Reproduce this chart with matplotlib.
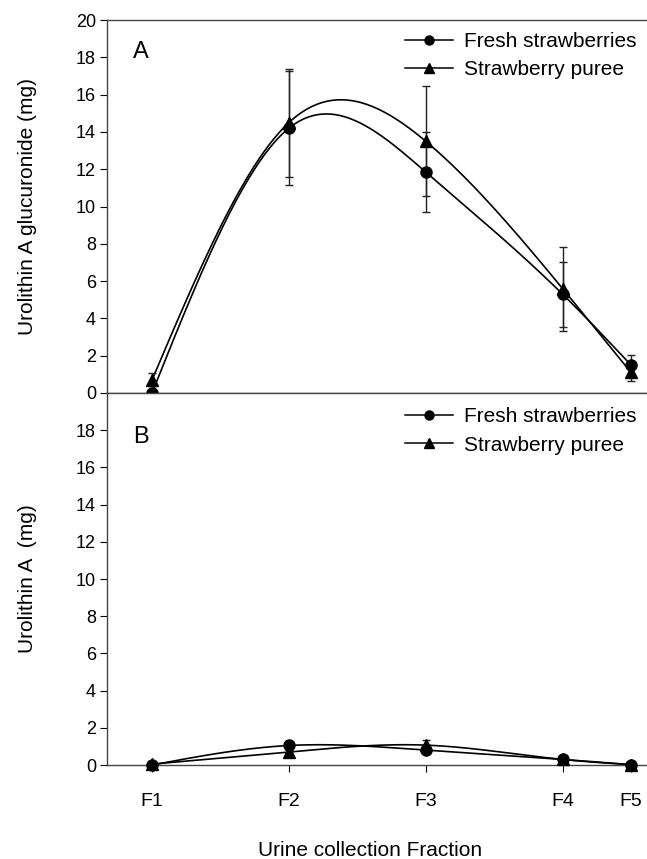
import numpy as np
import matplotlib
matplotlib.use("Agg")
import matplotlib.pyplot as plt
from matplotlib.lines import Line2D

plt.rcParams['font.family'] = ['Liberation Sans', 'DejaVu Sans']

# Data
fractions = ["F1", "F2", "F3", "F4", "F5"]
frac_pos = [0, 2, 4, 6, 7]  # fractions are not evenly spaced on the axis

# Panel A: urolithin A glucuronide (mg)
gluc_fresh = [0.0, 14.2, 11.85, 5.3, 1.5]
gluc_fresh_err = [0.0, 3.05, 2.15, 1.75, 0.55]
gluc_puree = [0.7, 14.5, 13.5, 5.6, 1.1]
gluc_puree_err = [0.35, 2.9, 2.95, 2.25, 0.45]

# Panel B: urolithin A (mg)
uroa_fresh = [0.0, 1.05, 0.8, 0.3, 0.02]
uroa_fresh_err = [0.0, 0.1, 0.1, 0.05, 0.0]
uroa_puree = [0.05, 0.7, 1.07, 0.3, 0.02]
uroa_puree_err = [0.0, 0.1, 0.25, 0.05, 0.0]

legend_names = ["Fresh strawberries", "Strawberry puree"]


def natural_spline(x, y, xs):
    # plain natural cubic spline, used only to draw the smooth connecting line
    x = np.asarray(x, float)
    y = np.asarray(y, float)
    n = len(x)
    h = np.diff(x)
    A = np.zeros((n, n))
    rhs = np.zeros(n)
    A[0, 0] = A[-1, -1] = 1
    for i in range(1, n - 1):
        A[i, i - 1] = h[i - 1]
        A[i, i] = 2 * (h[i - 1] + h[i])
        A[i, i + 1] = h[i]
        rhs[i] = 3 * ((y[i + 1] - y[i]) / h[i] - (y[i] - y[i - 1]) / h[i - 1])
    c = np.linalg.solve(A, rhs)
    out = np.empty_like(xs)
    for k, xv in enumerate(xs):
        i = min(np.searchsorted(x, xv, side='right') - 1, n - 2)
        i = max(i, 0)
        dx = xv - x[i]
        b = (y[i + 1] - y[i]) / h[i] - h[i] * (2 * c[i] + c[i + 1]) / 3
        d = (c[i + 1] - c[i]) / (3 * h[i])
        out[k] = y[i] + b * dx + c[i] * dx ** 2 + d * dx ** 3
    return out


def draw_series(ax, y, err, marker):
    xs = np.linspace(frac_pos[0], frac_pos[-1], 300)
    ax.plot(xs, natural_spline(frac_pos, y, xs), color='black', lw=1.2,
            zorder=2)
    ax.errorbar(frac_pos, y, yerr=err, fmt='none', ecolor='#222222',
                elinewidth=1.0, capsize=3, capthick=1.0, zorder=3)
    ax.plot(frac_pos, y, linestyle='none', marker=marker, color='black',
            markersize=8, zorder=4, clip_on=False)


def style_axes(ax):
    ax.set_xlim(-0.658, 7.234)
    ax.set_ylim(0, 20)
    ax.spines['right'].set_visible(False)
    for s in ['left', 'top', 'bottom']:
        ax.spines[s].set_color('#444444')
        ax.spines[s].set_linewidth(1.0)
    ax.tick_params(axis='y', direction='out', length=5, width=0.8,
                   labelsize=13, pad=3)


def add_legend(ax, y_top):
    handles = [Line2D([], [], color='black', lw=1.1, marker='o',
                      markersize=6.5),
               Line2D([], [], color='black', lw=1.1, marker='^',
                      markersize=6.5)]
    ax.legend(handles, legend_names, loc='upper left',
              bbox_to_anchor=(0.552, y_top), frameon=False, fontsize=15,
              handlelength=2.3, handletextpad=0.55, labelspacing=0.45,
              borderpad=0, borderaxespad=0, numpoints=1)


fig = plt.figure(figsize=(6.47, 8.59), dpi=100)
ax_a = fig.add_axes([0.1654, 0.5425, 0.8346, 0.4342])
ax_b = fig.add_axes([0.1654, 0.1094, 0.8346, 0.4331])

# panel A
draw_series(ax_a, gluc_fresh, gluc_fresh_err, 'o')
draw_series(ax_a, gluc_puree, gluc_puree_err, '^')
style_axes(ax_a)
ax_a.set_yticks(np.arange(0, 21, 2))
ax_a.set_xticks([])
ax_a.set_ylabel("Urolithin A glucuronide (mg)", fontsize=15)
ax_a.yaxis.set_label_coords(-0.13, 0.5)
ax_a.text(0.048, 0.914, "A", transform=ax_a.transAxes, fontsize=17,
          va='center', ha='left')
add_legend(ax_a, 0.968)

# panel B
draw_series(ax_b, uroa_fresh, uroa_fresh_err, 'o')
draw_series(ax_b, uroa_puree, uroa_puree_err, '^')
style_axes(ax_b)
ax_b.set_yticks(np.arange(0, 19, 2))
ax_b.set_xticks(frac_pos)
ax_b.set_xticklabels(fractions)
ax_b.tick_params(axis='x', direction='out', length=5, width=0.8,
                 labelsize=14, pad=15)
ax_b.set_ylabel("Urolithin A  (mg)", fontsize=15)
ax_b.yaxis.set_label_coords(-0.13, 0.5)
ax_b.text(0.048, 0.882, "B", transform=ax_b.transAxes, fontsize=17,
          va='center', ha='left')
add_legend(ax_b, 0.962)

fig.text(370 / 647, 1 - 850 / 859, "Urine collection Fraction",
         fontsize=15, ha='center', va='center')

fig.savefig("out.png", dpi=100)
